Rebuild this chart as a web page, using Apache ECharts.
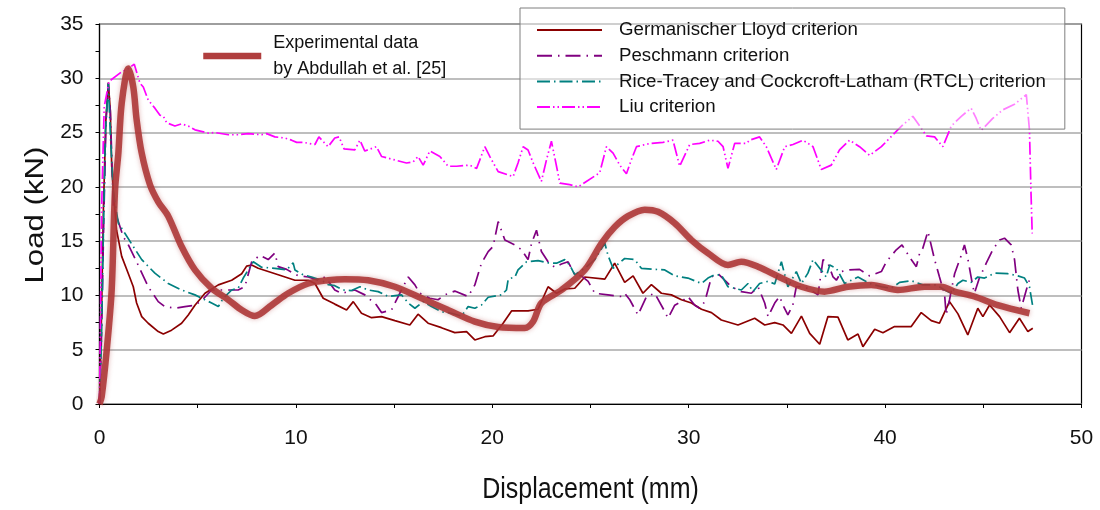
<!DOCTYPE html>
<html>
<head>
<meta charset="utf-8">
<script src="https://cdn.jsdelivr.net/npm/echarts@6/dist/echarts.min.js"></script>
<style>
  html, body { margin: 0; padding: 0; background: #fff; }
  #chart { width: 1100px; height: 510px; }
</style>
</head>
<body>
<div id="chart"></div>
<script>
// Load–displacement curves: test data and four fracture criteria
const xTicks = [0, 10, 20, 30, 40, 50];
const yTicks = [0, 5, 10, 15, 20, 25, 30, 35];
const xTitle = 'Displacement (mm)';
const yTitle = 'Load (kN)';

const seriesNames = [
  'Experimental data\nby Abdullah et al. [25]',
  'Germanischer Lloyd criterion',
  'Peschmann criterion',
  'Rice-Tracey and Cockcroft-Latham (RTCL) criterion',
  'Liu criterion'
];

// [displacement (mm), load (kN)]
const experimental = [
  [0,0],[0.11,0.65],[0.37,5],[0.62,10.5],[0.79,19.7],[0.96,23.1],[1.13,27.7],[1.47,30.9],
  [1.72,29.2],[1.89,26.2],[2.15,23.1],[2.57,20.2],[3.0,18.6],[3.5,17.3],[4.18,14.5],[4.86,12.35],
  [5.71,10.66],[6.56,9.6],[7.24,8.66],[7.91,8.1],[8.76,9.1],[9.61,10.2],[10.63,11.1],[11.64,11.4],
  [12.49,11.5],[13.68,11.4],[15.04,10.8],[16.4,9.74],[17.75,8.66],[19.11,7.59],[20.3,7.1],[21.65,7.0],
  [22.08,7.6],[22.5,9.3],[23.52,10.5],[24.71,12.35],[25.56,14.8],[26.23,16.3],[26.91,17.3],[27.76,17.9],
  [28.44,17.7],[29.29,16.65],[30.14,15.1],[30.98,13.9],[32.0,12.8],[32.68,13.1],[33.53,12.65],[34.72,11.6],
  [35.74,10.8],[36.92,10.35],[38.1,10.8],[39.3,10.97],[40.65,10.5],[42.0,10.8],[42.86,10.8],[43.54,10.35],
  [44.55,9.9],[45.74,9.1],[47.35,8.36]
];

const germanischerLloyd = [
  [0,0],[0.08,6],[0.2,18],[0.32,26],[0.45,29.6],[0.55,27],[0.62,22],[0.7,19.7],[0.87,16],[1.13,13.6],
  [1.47,12.0],[1.72,10.8],[1.89,9.3],[2.15,8.05],[2.48,7.44],[2.99,6.67],[3.25,6.45],[3.67,6.8],[4.18,7.44],
  [4.52,8.2],[4.86,9.1],[5.37,10.2],[6.05,10.97],[6.73,11.4],[7.24,12.0],[7.49,12.7],[7.75,12.8],[8.08,12.5],
  [9.1,11.9],[9.95,11.4],[10.63,11.4],[10.97,11.1],[11.39,9.74],[11.98,9.2],[12.58,8.66],[12.92,9.43],
  [13.34,8.36],[13.85,7.95],[14.36,8.05],[15.04,7.68],[15.8,7.28],[16.22,8.27],[16.73,7.44],[17.41,7.03],
  [18.09,6.57],[18.69,6.67],[19.11,5.9],[19.62,6.2],[20.04,6.27],[20.55,7.44],[20.98,8.57],[21.82,8.57],
  [22.33,8.73],[22.84,10.8],[23.27,10.2],[23.69,10.6],[24.2,10.66],[24.71,11.7],[25.73,11.5],[26.23,12.97],
  [26.74,11.2],[27.17,11.8],[27.67,10.2],[28.1,11.0],[28.61,10.2],[29.12,10.05],[29.63,9.6],[30.14,9.3],
  [30.65,8.73],[31.16,8.42],[31.66,7.74],[32.51,7.28],[33.36,7.9],[33.87,7.28],[34.38,7.5],[34.8,7.28],
  [35.23,6.5],[35.74,8.1],[36.16,6.5],[36.67,5.5],[37.09,8.05],[37.6,8.0],[38.1,5.9],[38.62,6.45],
  [38.87,5.28],[39.47,6.88],[39.89,6.57],[40.48,7.13],[41.33,7.13],[41.84,8.42],[42.35,7.68],[42.77,7.44],
  [43.28,9.43],[43.71,8.3],[44.21,6.36],[44.72,8.82],[44.98,8.05],[45.32,9.12],[45.83,8.05],[46.34,6.57],
  [46.84,7.9],[47.27,6.67],[47.52,6.97]
];

const peschmann = [
  [0,0],[0.1,6],[0.22,17],[0.33,26],[0.45,29.5],[0.55,27],[0.62,23.1],[0.7,18.2],[0.87,17.3],[1.21,15.4],
  [1.47,14.65],[1.89,13.1],[2.48,10.8],[2.99,9.43],[3.33,8.97],[3.84,8.82],[4.35,8.97],[4.86,9.1],[5.2,9.52],
  [5.71,10.5],[6.39,10.5],[7.06,10.5],[7.4,10.8],[7.75,13.1],[8.17,13.7],[8.59,13.3],[8.93,13.9],[9.1,12.65],
  [9.53,12.4],[10.12,11.8],[10.63,11.7],[11.14,11.4],[11.48,11.7],[11.98,10.5],[12.33,10.2],[13.0,10.5],
  [13.51,10.05],[14.1,9.12],[14.36,8.42],[14.87,8.66],[15.29,10.2],[15.72,11.7],[16.06,10.97],[16.31,10.2],
  [16.82,9.74],[17.24,9.6],[17.58,10.05],[18.09,10.4],[18.77,9.9],[19.11,10.97],[19.45,12.97],[19.79,14.04],
  [20.04,14.5],[20.3,16.8],[20.64,15.1],[21.15,14.65],[21.49,14.2],[21.82,13.3],[22.0,14.8],[22.25,16.0],
  [22.5,14.04],[22.84,13.1],[23.18,12.6],[23.52,12.9],[23.86,13.1],[24.2,11.9],[24.54,11.8],[24.88,11.3],
  [25.22,10.2],[25.89,10.05],[26.57,9.9],[26.74,10.2],[27.0,9.6],[27.42,8.2],[27.85,9.9],[28.27,10.2],
  [28.69,8.82],[28.95,7.9],[29.29,9.1],[29.63,9.43],[29.96,9.9],[30.31,9.1],[30.56,8.82],[30.82,9.43],
  [31.16,11.7],[31.49,12.0],[31.83,11.4],[32.17,10.8],[32.68,10.35],[33.19,10.2],[33.53,10.8],[33.87,9.3],
  [34.04,8.05],[34.38,9.3],[34.63,9.9],[34.8,9.1],[35.05,8.2],[35.3,9.1],[35.48,10.8],[35.9,10.8],
  [36.33,10.35],[36.58,10.05],[36.84,13.3],[37.09,12.97],[37.35,11.7],[37.52,11.4],[37.77,12.2],[38.19,12.35],
  [38.7,12.4],[39.21,11.8],[39.81,12.2],[40.06,13.1],[40.57,14.2],[40.86,14.65],[41.33,13.3],[41.59,12.65],
  [41.76,13.9],[41.92,14.35],[42.18,15.9],[42.52,13.3],[42.77,11.7],[43.03,10.05],[43.11,8.2],[43.28,9.6],
  [43.54,12.0],[43.88,13.7],[44.04,14.65],[44.21,13.4],[44.47,10.8],[44.55,10.2],[44.8,11.6],[45.15,12.97],
  [45.48,14.2],[45.83,15.1],[46.08,15.27],[46.42,14.65],[46.59,13.3],[46.76,10.5],[46.93,8.82],[47.19,10.5],
  [47.41,11.8]
];

const rtcl = [
  [0,0],[0.1,6],[0.2,16],[0.3,25],[0.45,29.55],[0.55,25],[0.7,19.7],[0.79,18.5],[0.96,16.65],[1.3,15.7],
  [1.72,14.5],[2.15,13.3],[2.82,12.05],[3.5,11.1],[4.18,10.5],[4.86,10.05],[5.37,9.6],[5.71,9.3],[6.05,8.97],
  [6.3,9.74],[6.73,10.5],[7.06,10.66],[7.32,11.6],[7.57,12.35],[7.83,13.1],[8.25,12.6],[8.93,12.5],[9.53,12.35],
  [9.86,13.0],[9.95,12.35],[10.37,11.9],[10.8,11.7],[11.31,11.4],[11.64,11.0],[11.98,10.9],[12.41,10.5],
  [12.83,10.45],[13.26,10.8],[13.68,10.5],[14.19,10.35],[14.7,9.9],[15.38,10.05],[15.72,9.3],[16.06,8.82],
  [16.48,9.43],[16.9,8.97],[17.41,8.5],[17.92,8.36],[18.43,8.1],[18.77,8.97],[19.11,8.82],[19.45,9.12],
  [19.79,9.83],[20.47,10.05],[20.72,10.5],[20.81,11.5],[21.15,11.7],[21.31,12.35],[21.74,13.1],[22.33,13.2],
  [22.84,13.0],[23.27,12.97],[23.69,13.3],[23.94,12.8],[24.2,11.9],[24.71,12.5],[25.22,13.3],[25.73,14.8],
  [25.89,13.7],[26.15,12.5],[26.74,13.4],[27.25,13.3],[27.59,12.5],[28.27,12.4],[28.78,12.35],[29.29,11.8],
  [29.96,11.6],[30.65,11.1],[30.98,11.6],[31.32,11.9],[31.66,11.9],[32.0,10.8],[32.68,10.5],[33.02,11.1],
  [33.27,10.35],[33.61,11.1],[34.04,11.3],[34.38,11.06],[34.72,13.1],[35.05,10.8],[35.48,12.2],[35.74,11.1],
  [36.07,12.05],[36.33,13.3],[36.67,12.5],[37.0,11.7],[37.18,12.8],[37.52,12.5],[37.94,11.1],[38.62,11.7],
  [39.21,11.1],[39.81,10.8],[40.31,10.66],[40.74,11.2],[41.33,11.36],[41.92,10.97],[42.6,10.97],[43.03,10.5],
  [43.37,10.2],[43.71,11.1],[43.96,11.4],[44.38,11.2],[44.72,11.7],[45.06,11.6],[45.57,12.05],[46.25,12.0],
  [46.76,11.8],[47.1,11.6],[47.35,10.8],[47.52,8.97]
];

const liu = [
  [0,0],[0.05,8],[0.11,18.2],[0.24,27.4],[0.37,28.6],[0.48,29.7],[1.13,30.6],[1.47,30.9],[1.77,31.3],
  [2.06,29.55],[2.23,29.2],[2.48,28.0],[2.82,27.25],[3.08,26.6],[3.25,26.5],[3.42,25.9],[3.84,25.6],
  [4.18,25.8],[4.52,25.6],[4.86,25.25],[5.54,24.95],[5.88,25.0],[6.56,24.8],[7.06,24.8],[7.57,24.9],
  [8.25,24.8],[8.51,24.9],[8.93,24.6],[9.44,24.5],[9.78,24.3],[10.04,24.1],[10.37,24.1],[10.97,23.9],
  [11.17,24.6],[11.48,24.0],[11.64,23.7],[11.98,24.5],[12.2,24.6],[12.45,23.5],[13.0,23.4],[13.26,24.3],
  [13.51,23.3],[14.1,23.7],[14.36,22.8],[14.78,22.6],[15.63,22.2],[15.97,22.3],[16.22,22.8],[16.48,22.0],
  [16.82,23.3],[17.33,22.8],[17.75,21.9],[18.18,21.9],[18.85,22.0],[19.2,21.7],[19.62,23.7],[19.87,22.8],
  [20.3,21.4],[21.06,20.95],[21.31,22.2],[21.57,23.7],[21.82,23.4],[22.08,22.2],[22.5,20.5],[22.76,22.5],
  [23.01,24.2],[23.27,21.9],[23.44,20.35],[23.94,20.2],[24.37,20.0],[24.79,20.5],[25.47,21.3],[25.81,23.7],
  [26.15,23.1],[26.49,22.0],[26.83,21.2],[27.08,22.5],[27.34,23.7],[28.02,24.0],[28.69,24.1],[29.2,24.3],
  [29.54,21.9],[30.05,23.9],[30.56,24.0],[31.07,24.3],[31.49,24.2],[31.75,23.7],[32.0,21.7],[32.34,24.0],
  [32.94,24.0],[33.1,24.3],[33.61,24.6],[33.95,23.7],[34.46,21.6],[34.89,23.7],[35.31,23.9],[35.82,24.3],
  [36.33,23.7],[36.75,21.6],[37.26,22.0],[37.68,23.4],[38.19,24.3],[38.7,23.7],[39.21,22.9],[39.81,23.7],
  [40.48,24.95],[40.9,25.7],[41.41,26.5],[41.84,25.4],[42.1,24.7],[42.52,24.6],[42.94,23.7],[43.37,25.6],
  [43.88,26.5],[44.38,27.25],[44.64,26.3],[44.89,25.2],[45.48,26.3],[46.0,27.1],[46.59,27.6],[47.19,28.5],
  [47.35,25.25],[47.43,19.4],[47.49,15.7]
];

const FONT = '"Liberation Sans", Arial, sans-serif';
const GRID = { left: 99.5, right: 18.5, top: 24, bottom: 106 };
const EXP_COLOR = 'rgba(172,52,52,0.88)';

const chart = echarts.init(document.getElementById('chart'), null, { renderer: 'canvas' });

function thinLine(name, data, color, type, z) {
  return {
    name, type: 'line', data, z,
    showSymbol: false, symbol: 'none', smooth: false,
    lineStyle: { color, width: 1.7, type },
    itemStyle: { color },
    emphasis: { disabled: true }
  };
}

// Legend entries show only the line sample (no marker)
const hiddenMarker = { opacity: 0, borderWidth: 0 };

const plotCenterX = GRID.left + (1100 - GRID.left - GRID.right) / 2;
const plotCenterY = GRID.top + (510 - GRID.top - GRID.bottom) / 2;

chart.setOption({
  animation: false,
  backgroundColor: '#ffffff',
  grid: {
    left: GRID.left, right: GRID.right, top: GRID.top, bottom: GRID.bottom,
    show: true, borderColor: '#000', borderWidth: 1.2, backgroundColor: 'transparent'
  },
  legend: [
    {
      data: [seriesNames[0]],
      left: 200, top: 30,
      orient: 'vertical',
      itemWidth: 58, itemHeight: 14,
      selectedMode: false,
      padding: 0,
      itemStyle: hiddenMarker,
      lineStyle: { color: 'rgba(172,52,52,0.95)', width: 6.5, type: 'solid' },
      textStyle: { fontFamily: FONT, fontSize: 18, color: '#111', lineHeight: 26, padding: [0, 0, 0, 7] }
    },
    {
      data: seriesNames.slice(1),
      left: 520, top: 8,
      orient: 'vertical',
      itemWidth: 65, itemHeight: 14, itemGap: 5.7,
      selectedMode: false,
      padding: [12, 19, 12, 16],
      borderColor: '#7f7f7f', borderWidth: 1,
      backgroundColor: 'rgba(255,255,255,0.5)',
      itemStyle: hiddenMarker,
      textStyle: { fontFamily: FONT, fontSize: 18.7, color: '#111', lineHeight: 20, padding: [0, 0, 0, 12] }
    }
  ],
  graphic: [
    {
      type: 'text', silent: true,
      x: plotCenterX, y: 490, scaleY: 1.15,
      style: { text: xTitle, font: '25px ' + FONT, fill: '#111', align: 'center', verticalAlign: 'middle' }
    },
    {
      type: 'text', silent: true,
      x: 36, y: plotCenterY + 1, rotation: Math.PI / 2, scaleX: 1.2,
      style: { text: yTitle, font: '26px ' + FONT, fill: '#111', align: 'center', verticalAlign: 'middle' }
    }
  ],
  xAxis: {
    type: 'value', min: xTicks[0], max: xTicks[xTicks.length - 1], interval: 10,
    axisLine: { show: true, lineStyle: { color: '#000', width: 1.2 } },
    axisTick: { show: true, length: 4, lineStyle: { color: '#000' } },
    minorTick: { show: true, splitNumber: 2, length: 4, lineStyle: { color: '#000' } },
    axisLabel: { fontFamily: FONT, fontSize: 21, color: '#111', margin: 24 },
    splitLine: { show: false }
  },
  yAxis: {
    type: 'value', min: yTicks[0], max: yTicks[yTicks.length - 1], interval: 5,
    axisLine: { show: true, lineStyle: { color: '#000', width: 1.2 } },
    axisTick: { show: true, length: 4, lineStyle: { color: '#000' } },
    minorTick: { show: true, splitNumber: 2, length: 4, lineStyle: { color: '#000' } },
    axisLabel: { fontFamily: FONT, fontSize: 21, color: '#111', margin: 16 },
    splitLine: { show: true, lineStyle: { color: '#a8a8a8', width: 1.6 } }
  },
  series: [
    {
      name: seriesNames[0], type: 'line', data: experimental, z: 5,
      showSymbol: false, symbol: 'none', smooth: 0.3,
      lineStyle: {
        color: EXP_COLOR, width: 6.5,
        shadowBlur: 5, shadowColor: 'rgba(180,70,70,0.45)'
      },
      itemStyle: { color: EXP_COLOR },
      emphasis: { disabled: true }
    },
    thinLine(seriesNames[1], germanischerLloyd, '#8b0000', 'solid', 3),
    thinLine(seriesNames[2], peschmann, '#800080', [15, 6, 1.5, 6], 3),
    thinLine(seriesNames[3], rtcl, '#008080', [13, 4, 1.5, 4], 3),
    thinLine(seriesNames[4], liu, '#ff00ff', [13, 3, 1.5, 3, 1.5, 3], 3)
  ]
});
</script>
</body>
</html>
